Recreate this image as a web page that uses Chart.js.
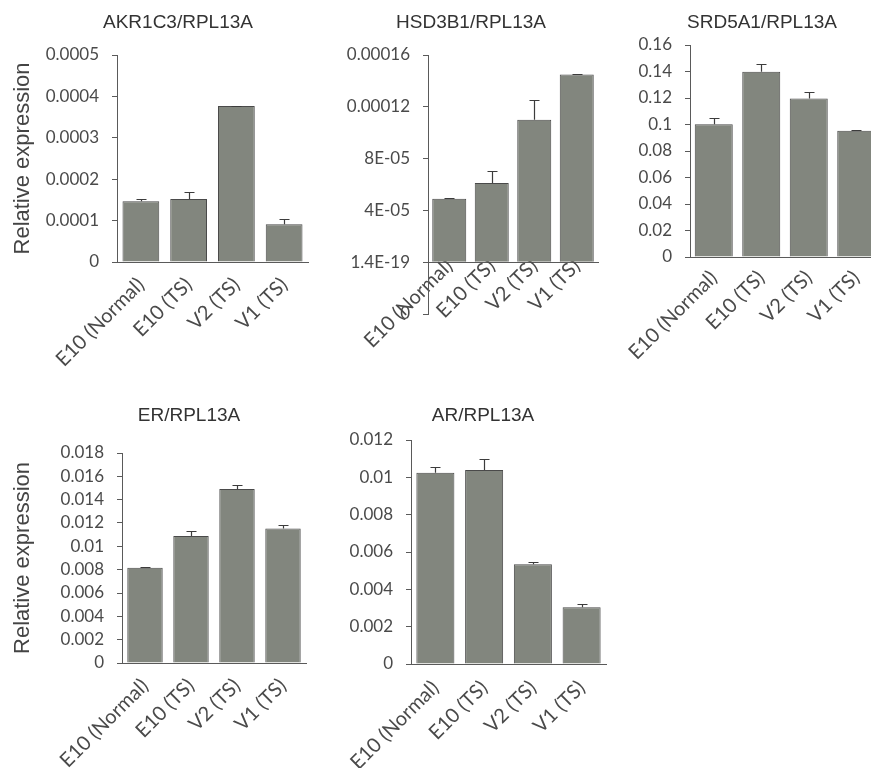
<!DOCTYPE html>
<html>
<head>
<meta charset="utf-8">
<script src="https://cdn.jsdelivr.net/npm/chart.js@4/dist/chart.umd.min.js"></script>
<style>
  html, body { margin: 0; padding: 0; background: #ffffff; }
  body { width: 871px; height: 768px; overflow: hidden; position: relative; }
  canvas { position: absolute; }
</style>
</head>
<body>
<canvas id="akr"></canvas>
<canvas id="hsd"></canvas>
<canvas id="srd"></canvas>
<canvas id="er"></canvas>
<canvas id="ar"></canvas>
<script>
// Cell lines shared by every panel
const categories = ['E10 (Normal)', 'E10 (TS)', 'V2 (TS)', 'V1 (TS)'];

// AKR1C3 / RPL13A
const akrValues = [0.000147, 0.000152, 0.000377, 0.000091];
const akrErrors = [0.0000048, 0.0000178, 0.000001, 0.0000137];
const akrTickValues = [0, 0.0001, 0.0002, 0.0003, 0.0004, 0.0005];
const akrTickLabels = ['0', '0.0001', '0.0002', '0.0003', '0.0004', '0.0005'];

// HSD3B1 / RPL13A
const hsdValues = [0.000049, 0.0000612, 0.00011, 0.000145];
const hsdErrors = [0.0000008, 0.0000093, 0.000015, 0.0000004];
const hsdTickValues = [-0.00004, 0, 0.00004, 0.00008, 0.00012, 0.00016];
const hsdTickLabels = ['0', '1.4E-19', '4E-05', '8E-05', '0.00012', '0.00016'];

// SRD5A1 / RPL13A
const srdValues = [0.1002, 0.1399, 0.1196, 0.0952];
const srdErrors = [0.005, 0.0055, 0.005, 0.0008];
const srdTickValues = [0, 0.02, 0.04, 0.06, 0.08, 0.1, 0.12, 0.14, 0.16];
const srdTickLabels = ['0', '0.02', '0.04', '0.06', '0.08', '0.1', '0.12', '0.14', '0.16'];

// ER / RPL13A
const erValues = [0.00817, 0.01088, 0.01492, 0.01153];
const erErrors = [0.00006, 0.00046, 0.00038, 0.00027];
const erTickValues = [0, 0.002, 0.004, 0.006, 0.008, 0.01, 0.012, 0.014, 0.016, 0.018];
const erTickLabels = ['0', '0.002', '0.004', '0.006', '0.008', '0.01', '0.012', '0.014', '0.016', '0.018'];

// AR / RPL13A
const arValues = [0.01025, 0.01039, 0.00534, 0.00304];
const arErrors = [0.00029, 0.00057, 0.00011, 0.00016];
const arTickValues = [0, 0.002, 0.004, 0.006, 0.008, 0.01, 0.012];
const arTickLabels = ['0', '0.002', '0.004', '0.006', '0.008', '0.01', '0.012'];

const AXIS_COLOR = '#5a5a5a';
const TEXT_COLOR = '#4a4a4a';
const BAR_FILL = '#82867e';
const BAR_EDGE = '#4a4a4a';

// Upper-only error bars with a short cap, drawn from value + error through the y scale
const errorBars = {
  id: 'errorBars',
  afterDatasetsDraw(chart, args, opts) {
    const errs = opts.errors;
    if (!errs) return;
    const ctx = chart.ctx;
    const yScale = chart.scales.y;
    const vals = chart.data.datasets[0].data;
    const meta = chart.getDatasetMeta(0);
    ctx.save();
    ctx.strokeStyle = '#3c3c3c';
    ctx.lineWidth = 1.2;
    meta.data.forEach((bar, i) => {
      const x = Math.round(bar.x) + 0.5;
      const yTop = Math.round(yScale.getPixelForValue(vals[i] + errs[i])) + 0.5;
      ctx.beginPath();
      ctx.moveTo(x, bar.y);
      ctx.lineTo(x, yTop);
      ctx.moveTo(x - 5, yTop);
      ctx.lineTo(x + 5, yTop);
      ctx.stroke();
    });
    ctx.restore();
  }
};

// Panel heading, placed relative to the plot area's left edge
const panelTitle = {
  id: 'panelTitle',
  afterDraw(chart, args, opts) {
    if (!opts.text) return;
    const ctx = chart.ctx;
    ctx.save();
    ctx.font = '19px "Liberation Sans"';
    ctx.fillStyle = '#333333';
    ctx.textAlign = 'center';
    ctx.textBaseline = 'middle';
    ctx.fillText(opts.text, chart.chartArea.left + opts.dx, opts.y);
    ctx.restore();
  }
};

function makePanel(cfg) {
  const canvas = document.getElementById(cfg.id);
  const left = cfg.plot.l - cfg.yWidth;
  const top = cfg.titleY - 14;
  const padRight = 6;
  const width = Math.round(cfg.plot.r + padRight - left);
  const xHeight = 110;
  const height = Math.round((cfg.plot.b - top) + (cfg.floatingX ? cfg.bottomPad : xHeight));
  canvas.width = width;
  canvas.height = height;
  canvas.style.left = left + 'px';
  canvas.style.top = top + 'px';
  canvas.style.width = width + 'px';
  canvas.style.height = height + 'px';

  const xScale = {
    type: 'category',
    offset: true,
    grid: { display: false },
    border: { display: true, color: AXIS_COLOR, width: 1 },
    ticks: {
      autoSkip: false,
      minRotation: 45,
      maxRotation: 45,
      padding: cfg.xPad,
      color: TEXT_COLOR,
      font: { family: 'Lato', size: 20 }
    }
  };
  if (cfg.floatingX) {
    xScale.position = { y: 0 };
  } else {
    xScale.afterFit = (s) => { s.height = xHeight; };
  }

  const yScale = {
    type: 'linear',
    min: cfg.tickValues[0],
    max: cfg.tickValues[cfg.tickValues.length - 1],
    afterBuildTicks: (s) => { s.ticks = cfg.tickValues.map(v => ({ value: v })); },
    afterFit: (s) => { s.width = cfg.yWidth; },
    grid: { drawOnChartArea: false, drawTicks: true, tickLength: 5, color: AXIS_COLOR, lineWidth: 1 },
    border: { display: true, color: AXIS_COLOR, width: 1 },
    ticks: {
      autoSkip: false,
      padding: 13,
      color: TEXT_COLOR,
      font: { family: 'Lato', size: 17 },
      callback: (v, i) => cfg.tickLabels[i]
    },
    title: {
      display: !!cfg.yTitle,
      text: cfg.yTitle || '',
      color: '#444444',
      padding: { top: 10, bottom: 0 },
      font: { family: 'Liberation Sans', size: 22 }
    }
  };

  return new Chart(canvas, {
    type: 'bar',
    data: {
      labels: categories,
      datasets: [{
        data: cfg.values,
        backgroundColor: BAR_FILL,
        borderColor: BAR_EDGE,
        borderWidth: 1,
        barPercentage: cfg.barPct,
        categoryPercentage: 1
      }]
    },
    options: {
      responsive: false,
      animation: false,
      devicePixelRatio: 1,
      layout: {
        padding: {
          top: cfg.plot.t - top,
          left: 0,
          right: padRight,
          bottom: cfg.floatingX ? cfg.bottomPad : 0
        }
      },
      plugins: {
        legend: { display: false },
        tooltip: { enabled: false },
        title: { display: false },
        panelTitle: { text: cfg.title, dx: cfg.titleX - cfg.plot.l, y: cfg.titleY - top },
        errorBars: { errors: cfg.errors }
      },
      scales: { x: xScale, y: yScale }
    },
    plugins: [errorBars, panelTitle]
  });
}

makePanel({
  id: 'akr', title: 'AKR1C3/RPL13A', yTitle: 'Relative expression',
  values: akrValues, errors: akrErrors, tickValues: akrTickValues, tickLabels: akrTickLabels,
  plot: { l: 117, r: 308, t: 55, b: 262 }, yWidth: 117, titleX: 178, titleY: 23, barPct: 0.77, xPad: 3
});

makePanel({
  id: 'hsd', title: 'HSD3B1/RPL13A',
  values: hsdValues, errors: hsdErrors, tickValues: hsdTickValues, tickLabels: hsdTickLabels,
  plot: { l: 428, r: 598, t: 55, b: 314 }, yWidth: 90, titleX: 471, titleY: 23, barPct: 0.8, xPad: -16,
  floatingX: true, bottomPad: 70
});

makePanel({
  id: 'srd', title: 'SRD5A1/RPL13A',
  values: srdValues, errors: srdErrors, tickValues: srdTickValues, tickLabels: srdTickLabels,
  plot: { l: 690, r: 880, t: 45, b: 257 }, yWidth: 80, titleX: 762, titleY: 23, barPct: 0.8, xPad: 1
});

makePanel({
  id: 'er', title: 'ER/RPL13A', yTitle: 'Relative expression',
  values: erValues, errors: erErrors, tickValues: erTickValues, tickLabels: erTickLabels,
  plot: { l: 122, r: 306, t: 453, b: 663 }, yWidth: 122, titleX: 189, titleY: 416, barPct: 0.77, xPad: 3
});

makePanel({
  id: 'ar', title: 'AR/RPL13A',
  values: arValues, errors: arErrors, tickValues: arTickValues, tickLabels: arTickLabels,
  plot: { l: 411, r: 606, t: 440, b: 664 }, yWidth: 84, titleX: 483, titleY: 416, barPct: 0.78, xPad: 4
});
</script>
</body>
</html>
